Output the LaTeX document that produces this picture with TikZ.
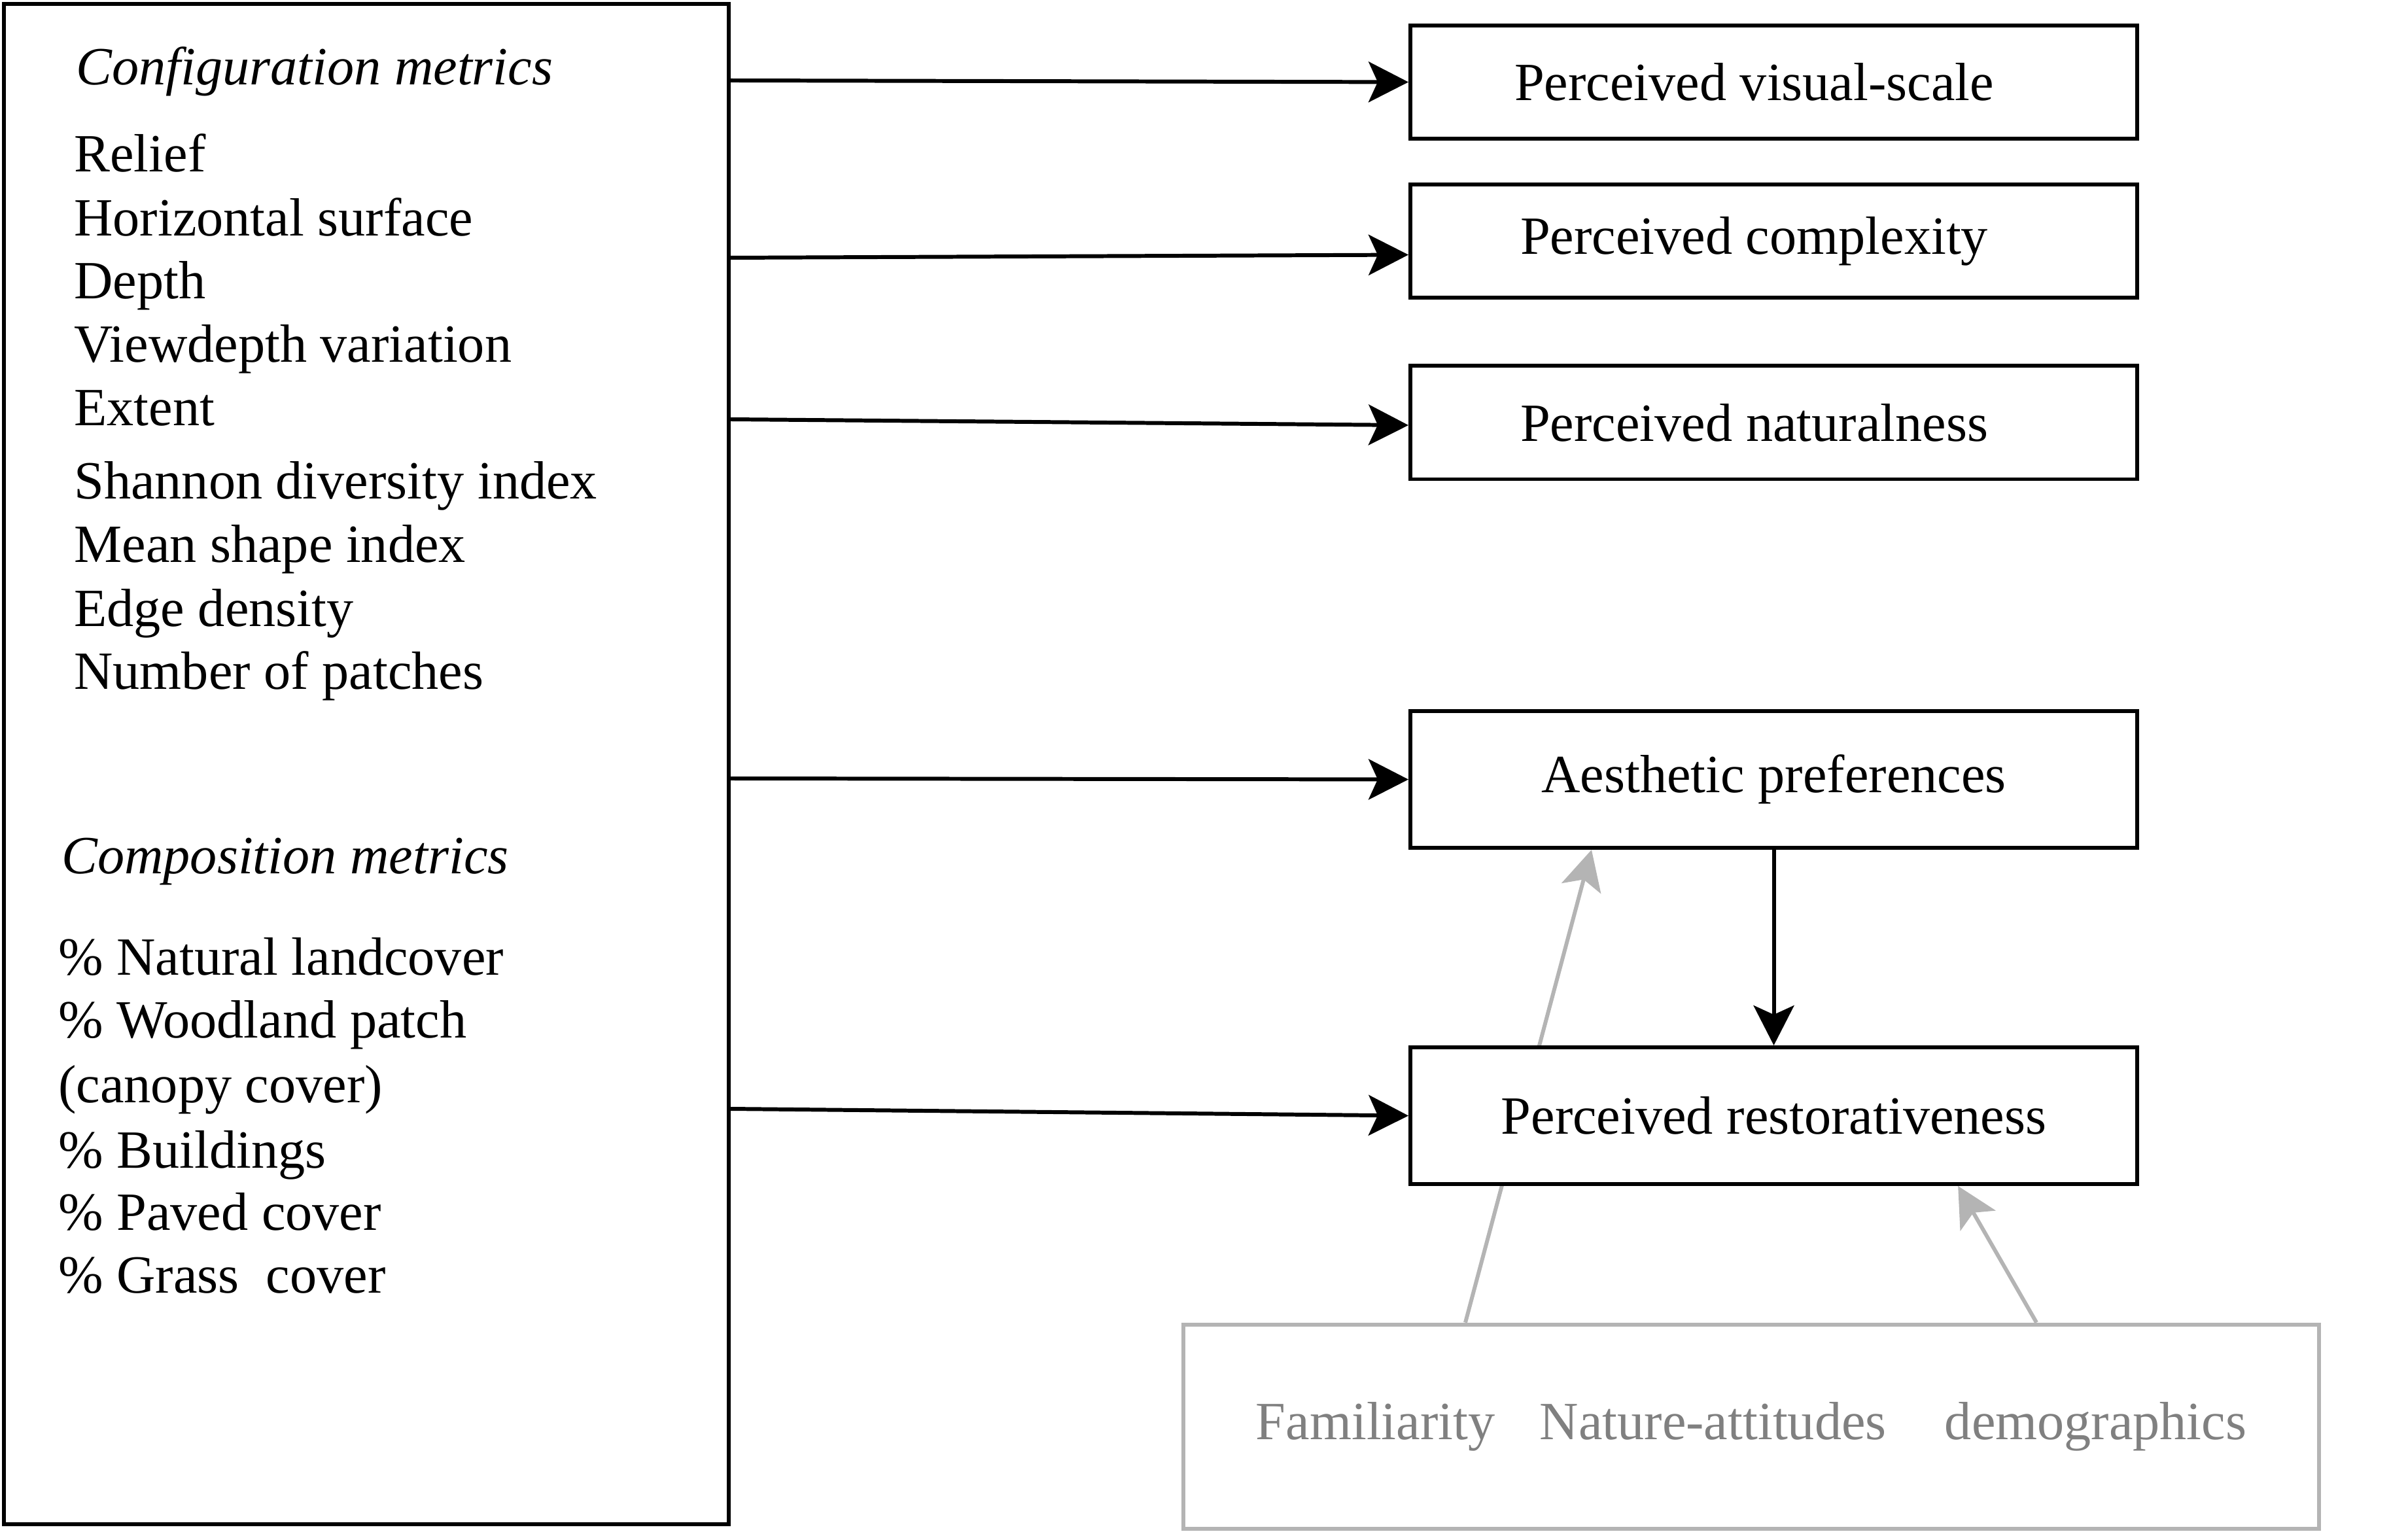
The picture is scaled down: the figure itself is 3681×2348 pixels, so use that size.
\documentclass[tikz,border=0pt]{standalone}
\usepackage{fontspec}
\setmainfont{Liberation Serif}
\usetikzlibrary{arrows.meta}
\definecolor{lgray}{RGB}{180,180,180}
\definecolor{tgray}{RGB}{128,128,128}
\begin{document}
\begin{tikzpicture}[x=0.05mm, y=-0.05mm, font=\fontsize{11.7}{13.8}\selectfont,
  outcome/.style={draw, line width=0.85pt, fill=white, minimum width=55.55mm, inner sep=0pt},
  metric/.style={anchor=base west, inner sep=0pt},
  conn/.style={line width=0.85pt, -{Stealth[length=3.05mm, width=3.1mm, inset=0.7mm]}},
  faint/.style={conn, draw=lgray}]
\useasboundingbox (0,0) rectangle (3681,2348);

% landscape metrics
\node[draw, line width=0.95pt, minimum width=55.4mm, minimum height=116.2mm, inner sep=0pt] (lhs) at (560,1168){};
\node[metric] (cfg) at (115,130){\textit{Configuration metrics}};
\foreach \y/\t [count=\i] in {263/Relief, 361/Horizontal surface, 457/Depth, 554/Viewdepth variation, 651/Extent, 763/Shannon diversity index, 860/Mean shape index, 958/Edge density, 1054/Number of patches}
  \node[metric] (cfg\i) at (112,\y){\t};
\node[metric] (cmp) at (93,1335){\textit{Composition metrics}};
\foreach \y/\t [count=\i] in {1490/\% Natural landcover, 1586/\% Woodland patch, 1685/(canopy cover), 1785/\% Buildings, 1880/\% Paved cover, 1976/\% Grass\ \ cover}
  \node[metric] (cmp\i) at (88,\y){\t};

% outcomes
\node[outcome, minimum height=8.65mm, label={[xshift=-1.5mm]center:Perceived visual-scale}] (vis) at (2711.5,125.5){};
\node[outcome, minimum height=8.65mm, label={[xshift=-1.5mm]center:Perceived complexity}] (cpx) at (2711.5,368.5){};
\node[outcome, minimum height=8.65mm, label={[xshift=-1.5mm]center:Perceived naturalness}] (nat) at (2711.5,646){};
\node[outcome, minimum height=10.45mm] (aes) at (2711.5,1191.5){Aesthetic preferences};

% moderators, drawn behind the restorativeness box
\node[draw=lgray, line width=0.95pt, minimum width=86.8mm, minimum height=15.6mm, inner sep=0pt, text=tgray] (ctx) at (2677,2181){Familiarity\hspace{9.7pt}Nature-attitudes\hspace{12.7pt}demographics};
\draw[faint] ([xshift=-21.85mm]ctx.north) -- ([xshift=-13.93mm]aes.south);
\node[outcome, minimum height=10.45mm] (rest) at (2711.5,1705.5){Perceived restorativeness};
\draw[faint] ([xshift=21.8mm]ctx.north) -- ([xshift=14.08mm]rest.south);

\coordinate (o1) at (1117,123);
\coordinate (o2) at (1117,394);
\coordinate (o3) at (1117,641);
\coordinate (o4) at (1117,1190);
\coordinate (o5) at (1117,1695);
\draw[conn] (o1) -- (vis.west);
\draw[conn] (o2) -- ([yshift=-1.05mm]cpx.west);
\draw[conn] (o3) -- ([yshift=-0.2mm]nat.west);
\draw[conn] (o4) -- (aes.west);
\draw[conn] (o5) -- (rest.west);
\draw[conn] (aes) -- (rest);
\end{tikzpicture}
\end{document}
